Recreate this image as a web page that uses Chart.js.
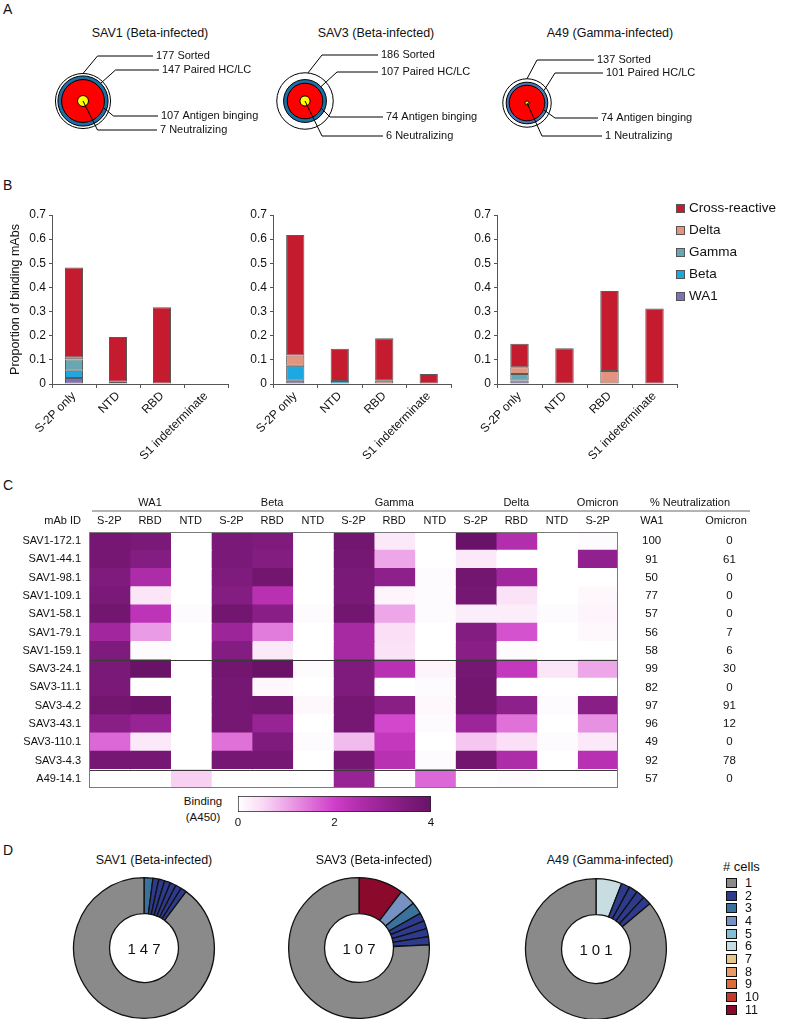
<!DOCTYPE html>
<html><head><meta charset="utf-8"><title>Figure</title>
<script src="https://cdn.jsdelivr.net/npm/chart.js"></script>
<style>
html,body{margin:0;padding:0;background:#fff}
body{position:relative;width:793px;height:1019px;overflow:hidden;font-family:"Liberation Sans",Arial,Helvetica,sans-serif;color:#111}
canvas{position:absolute;display:block}
.tx{position:absolute;white-space:nowrap;line-height:1}
.sw{position:absolute;box-sizing:border-box}
</style></head><body>
<script>
// ================= DATA =================
const donorTitles = ['SAV1 (Beta-infected)', 'SAV3 (Beta-infected)', 'A49 (Gamma-infected)'];
const sortedCounts = [177, 186, 137];
const pairedCounts = [147, 107, 101];
const bindingCounts = [107, 74, 74];
const neutralizingCounts = [7, 6, 1];

// Panel B: proportion of binding mAbs
const epitopeCategories = ['S-2P only', 'NTD', 'RBD', 'S1 indeterminate'];
const specificityNames = ['WA1', 'Beta', 'Gamma', 'Delta', 'Cross-reactive'];
const sav1WA1   = [0.025, 0, 0, 0];
const sav1Beta  = [0.030, 0.009, 0, 0];
const sav1Gamma = [0.046, 0, 0, 0];
const sav1Delta = [0.010, 0, 0, 0];
const sav1Cross = [0.372, 0.186, 0.318, 0];
const sav3WA1   = [0.013, 0, 0, 0];
const sav3Beta  = [0.063, 0.012, 0, 0];
const sav3Gamma = [0, 0, 0, 0];
const sav3Delta = [0.042, 0, 0.013, 0];
const sav3Cross = [0.499, 0.134, 0.176, 0.041];
const a49WA1    = [0.014, 0, 0, 0];
const a49Beta   = [0, 0, 0, 0];
const a49Gamma  = [0.027, 0, 0, 0];
const a49Delta  = [0.028, 0, 0.054, 0];
const a49Cross  = [0.098, 0.148, 0.331, 0.313];
const yTicksB = [0, 0.7, 0.1]; // min, max, step

// Panel C: heatmap
const mabIds = ['SAV1-172.1','SAV1-44.1','SAV1-98.1','SAV1-109.1','SAV1-58.1','SAV1-79.1','SAV1-159.1',
                'SAV3-24.1','SAV3-11.1','SAV3-4.2','SAV3-43.1','SAV3-110.1','SAV3-4.3','A49-14.1'];
const heatColumns = ['S-2P','RBD','NTD','S-2P','RBD','NTD','S-2P','RBD','NTD','S-2P','RBD','NTD','S-2P'];
const columnVariant = [0,0,0,1,1,1,2,2,2,3,3,3,4];
const variantGroups = ['WA1','Beta','Gamma','Delta','Omicron'];
const bindingA450 = [
  [3.7,3.6,0,   3.6,3.5,0,    3.8,0.3,0,    4.0,2.5,0,    0.05],
  [3.7,3.4,0,   3.6,3.4,0,    3.7,1.0,0,    0.3,0,0,      3.1],
  [3.5,2.6,0,   3.5,3.8,0,    3.6,3.2,0.05, 3.8,2.8,0,    0],
  [3.6,0.35,0,  3.4,2.4,0,    3.6,0.15,0.05,3.7,0.4,0,    0.1],
  [3.8,2.3,0.05,3.8,3.3,0.05, 3.8,1.0,0.05, 0.25,0.25,0.05,0.15],
  [2.8,1.1,0,   2.9,1.4,0,    2.7,0.45,0,   3.4,1.8,0,    0.1],
  [3.5,0.05,0,  3.4,0.3,0,    2.7,0.4,0,    3.3,0.05,0,   0],
  [3.6,4.0,0,   3.8,4.0,0.05, 3.5,2.4,0.15, 3.7,2.2,0.35, 1.0],
  [3.6,0,0,     3.7,0.1,0,    3.5,0,0.05,   3.8,0,0,      0],
  [3.8,3.9,0,   3.7,3.8,0.1,  3.7,3.3,0.1,  3.8,3.2,0.05, 3.3],
  [3.3,3.0,0,   3.7,3.0,0,    3.7,1.9,0.05, 2.9,1.5,0,    1.2],
  [1.6,0.3,0,   1.5,3.5,0.05, 0.8,2.2,0,    0.7,0.45,0.05,0.3],
  [3.7,3.7,0,   3.7,3.7,0,    3.7,2.4,0.05, 3.8,2.6,0,    2.4],
  [0,0,0.6,     0,0,0,        3.0,0,1.6,    0,0.05,0,     0]
];
const neutWA1     = [100, 91, 50, 77, 57, 56, 58, 99, 82, 97, 96, 49, 92, 57];
const neutOmicron = [0, 61, 0, 0, 0, 7, 6, 30, 0, 91, 12, 0, 78, 0];
const colorbarRange = [0, 4];
const colorbarStep = 2;

// Panel D: clonal expansion (cells per slice and cell-count class)
const cellCountClasses = [1,2,3,4,5,6,7,8,9,10,11];
const sav1Slices = [3, 2, 2, 2, 2, 2, 2, 132];
const sav1SliceClass = [3, 2, 2, 2, 2, 2, 2, 1];
const sav3Slices = [11, 4, 3, 2, 2, 2, 2, 81];
const sav3SliceClass = [11, 4, 3, 2, 2, 2, 2, 1];
const a49Slices = [6, 2, 2, 2, 2, 87];
const a49SliceClass = [6, 2, 2, 2, 2, 1];

// ================= STYLE =================
const FONT = '"Liberation Sans", Arial, Helvetica, sans-serif';
const specColors = ['#8070b5', '#1ea8e1', '#68a7b2', '#e2947f', '#c41b2e'];
const targetBlues = ['#1b70a6', '#1b70a6', '#4a78b6'];
const cellColors = ['#8a8a8a','#2e3a8c','#3a729e','#7692c3','#84bed2','#c8dde2','#e6c78b','#e89b64','#e06b3a','#c63a2b','#8b0a2c'];
const cmapStops = [[0,[255,255,255]],[0.5,[249,219,245]],[1,[237,166,232]],[1.5,[223,113,217]],[2,[207,62,201]],
                   [2.5,[178,46,172]],[3,[151,35,149]],[3.5,[127,27,125]],[4,[106,18,103]]];
function a450Color(v){
  v = Math.max(0, Math.min(4, v));
  for (let i = 1; i < cmapStops.length; i++){
    const [v1,c1] = cmapStops[i-1], [v2,c2] = cmapStops[i];
    if (v <= v2){
      const t = (v - v1) / (v2 - v1);
      const c = c1.map((x,j)=>Math.round(x + (c2[j]-x)*t));
      return `rgb(${c[0]},${c[1]},${c[2]})`;
    }
  }
  return 'rgb(106,18,103)';
}

Chart.defaults.responsive = false;
Chart.defaults.maintainAspectRatio = false;
Chart.defaults.animation = false;
Chart.defaults.events = [];
Chart.defaults.font.family = FONT;
Chart.defaults.color = '#111';
Chart.defaults.plugins.legend.display = false;
Chart.defaults.plugins.tooltip.enabled = false;

function T(txt, x, y, size, align='left', extra=''){
  const d = document.createElement('div'); d.className = 'tx'; d.textContent = txt;
  const tx = align==='center' ? -50 : align==='right' ? -100 : 0;
  d.style.cssText += `left:${x}px;top:${y}px;font-size:${size}px;transform:translate(${tx}%,-50%);${extra}`;
  document.body.appendChild(d); return d;
}
function C(left, top, w, h){
  const c = document.createElement('canvas'); c.width = w; c.height = h;
  c.style.left = left+'px'; c.style.top = top+'px'; c.style.width = w+'px'; c.style.height = h+'px';
  document.body.appendChild(c); return c;
}
// fix an axis' size and drop its label overflow padding
const fixW = w => s => { s.width = w; s.paddingTop = 0; s.paddingBottom = 0; };
const fixH = h => s => { s.height = h; };

// Panel letters
T('A', 3, 9, 14); T('B', 3, 185, 14); T('C', 3, 485, 14); T('D', 3, 850, 14);

// ================= PANEL A =================
const PX_PER_SQRT = 2.07;
const targetCenters = [[82.5,101],[305,101],[527,103]];
const titleCentersA = [150, 376, 610];
const leaders = [
  [{ring:0,ang:-90,ex:14.5,ey:-45,end:70},{ring:1,ang:-45,ex:32.5,ey:-31,end:76},{ring:2,ang:18,ex:30.5,ey:15,end:75},{ring:-1,ang:0,ex:14.5,ey:29,end:74}],
  [{ring:0,ang:-84,ex:17,ey:-46,end:73},{ring:1,ang:-42,ex:32,ey:-29,end:73},{ring:2,ang:24,ex:25,ey:16,end:78},{ring:-1,ang:0,ex:17,ey:35,end:78}],
  [{ring:0,ang:-90,ex:10,ey:-43,end:67},{ring:1,ang:-36,ex:28,ey:-30,end:76},{ring:2,ang:22,ex:28,ey:15,end:71},{ring:-1,ang:0,ex:15,ey:33,end:75}]
];
function leaderPlugin(i){
  const texts = [`${sortedCounts[i]} Sorted`, `${pairedCounts[i]} Paired HC/LC`, `${bindingCounts[i]} Antigen binging`, `${neutralizingCounts[i]} Neutralizing`];
  return {id:'leaders'+i, afterDatasetsDraw(chart){
    const {ctx} = chart;
    const cx = chart.scales.x.getPixelForValue(0), cy = chart.scales.y.getPixelForValue(0);
    const radii = chart.data.datasets.map(d=>d.data[0].r);
    ctx.save(); ctx.strokeStyle='#000'; ctx.lineWidth=1; ctx.fillStyle='#111';
    ctx.font = `11px ${FONT}`; ctx.textBaseline='middle'; ctx.textAlign='left';
    leaders[i].forEach((L,k)=>{
      const r = L.ring < 0 ? 0 : radii[L.ring];
      const a = L.ang*Math.PI/180;
      ctx.beginPath(); ctx.moveTo(cx + r*Math.cos(a), cy + r*Math.sin(a));
      ctx.lineTo(cx + L.ex, cy + L.ey); ctx.lineTo(cx + L.end, cy + L.ey); ctx.stroke();
      ctx.fillText(texts[k], cx + L.end + 3, cy + L.ey);
    });
    ctx.restore();
  }};
}
donorTitles.forEach((title,i)=>{
  const [cx,cy] = targetCenters[i];
  T(title, titleCentersA[i], 33, 12.5, 'center');
  const cv = C(cx-80, cy-65, 300, 130);
  const counts = [sortedCounts[i], pairedCounts[i], bindingCounts[i], neutralizingCounts[i]];
  const fills = ['#ffffff', targetBlues[i], '#ff0000', '#ffff00'];
  new Chart(cv, {type:'bubble',
    data:{datasets: counts.map((n,k)=>({data:[{x:0,y:0,r:PX_PER_SQRT*Math.sqrt(n)}], backgroundColor:fills[k],
      borderColor:'#000', borderWidth:1, order:counts.length-k, clip:false}))},
    options:{layout:{padding:32}, scales:{x:{display:false,min:-48,max:188}, y:{display:false,min:-33,max:33}}},
    plugins:[leaderPlugin(i)]});
});

// ================= PANEL B =================
const seriesB = [
  [sav1WA1, sav1Beta, sav1Gamma, sav1Delta, sav1Cross],
  [sav3WA1, sav3Beta, sav3Gamma, sav3Delta, sav3Cross],
  [a49WA1, a49Beta, a49Gamma, a49Delta, a49Cross]
];
const barLayout = [{left:0, axisW:52, padR:12}, {left:223, axisW:50, padR:12}, {left:449, axisW:48, padR:12}];
seriesB.forEach((series,i)=>{
  const L = barLayout[i];
  const cv = C(L.left, 205, 240, 270);
  new Chart(cv, {type:'bar',
    data:{labels: epitopeCategories, datasets: specificityNames.map((nm,k)=>({label:nm, data:series[k],
      backgroundColor:specColors[k], borderColor:'#5a5a5a', borderWidth:1, borderSkipped:false,
      barPercentage:0.41, categoryPercentage:1}))},
    options:{layout:{padding:{top:10,right:L.padR,left:0,bottom:0}},
      scales:{
        x:{stacked:true, grid:{display:true, drawOnChartArea:false, drawTicks:true, tickLength:4, color:'#555'},
           border:{color:'#555', width:1}, ticks:{autoSkip:false, minRotation:45, maxRotation:45, padding:1, font:{size:12}, color:'#111'},
           afterFit:fixH(91)},
        y:{stacked:true, min:yTicksB[0], max:yTicksB[1], ticks:{stepSize:yTicksB[2], padding:3, font:{size:12}, color:'#111'},
           grid:{display:true, drawOnChartArea:false, tickLength:3, color:'#555'}, border:{color:'#555', width:1},
           title:{display:i===0, text:'Proportion of binding mAbs', font:{size:12.5}, color:'#111', padding:{top:8,bottom:0}},
           afterFit:fixW(L.axisW)}
      }}});
});
// legend for B
specificityNames.slice().reverse().forEach((nm,j)=>{
  const k = specificityNames.length-1-j;
  const y = 208 + 22*j;
  const sw = document.createElement('div'); sw.className='sw';
  sw.style.cssText += `left:676px;top:${y-4}px;width:9px;height:9px;background:${specColors[k]};border:1px solid #555;`;
  document.body.appendChild(sw);
  T(nm, 689, y, 13.5);
});

// ================= PANEL C =================
const groupTicks = heatColumns.map(()=> '');
variantGroups.forEach((g,gi)=>{
  const idx = columnVariant.map((v,c)=>v===gi?c:-1).filter(c=>c>=0);
  groupTicks[idx[Math.floor(idx.length/2)]] = g;
});
const donorOf = id => id.split('-')[0];
const heatSeparators = mabIds.map((id,r)=> r>0 && donorOf(id)!==donorOf(mabIds[r-1]) ? r : -1).filter(r=>r>0);
const heatDecor = {id:'heatDecor', afterDatasetsDraw(chart){
  const {ctx, chartArea:a, scales} = chart;
  const y = scales.y;
  ctx.save();
  ctx.strokeStyle = '#3a3a3a'; ctx.lineWidth = 1;
  heatSeparators.forEach(r=>{
    const py = Math.round((y.getPixelForValue(r-1)+y.getPixelForValue(r))/2) + 0.5;
    ctx.beginPath(); ctx.moveTo(a.left, py); ctx.lineTo(a.right, py); ctx.stroke();
  });
  ctx.strokeStyle = '#7a7a7a';
  ctx.strokeRect(Math.round(a.left)+0.5, Math.round(a.top)+0.5, Math.round(a.right)-Math.round(a.left)-1, Math.round(a.bottom)-Math.round(a.top)-1);
  const gy = scales.x3.bottom;
  ctx.strokeStyle = '#9a9a9a'; ctx.lineWidth = 1.5;
  ctx.beginPath(); ctx.moveTo(a.left+3, gy); ctx.lineTo(scales.y3.right-20, gy); ctx.stroke();
  ctx.fillStyle = '#111'; ctx.font = `11px ${FONT}`; ctx.textBaseline = 'middle';
  const subY = scales.x2.bottom - 4 - 6.6;
  const grpY = scales.x3.bottom - 1.4 - 6.6;
  ctx.textAlign = 'right'; ctx.fillText('mAb ID', a.left-8, subY);
  ctx.textAlign = 'center';
  ctx.fillText('WA1', 652, subY);
  ctx.fillText('Omicron', 726, subY);
  ctx.fillText('% Neutralization', 690, grpY);
  ctx.restore();
}};
const hc = C(0, 491, 793, 300);
new Chart(hc, {type:'bar',
  data:{labels: mabIds, datasets: heatColumns.map((col,c)=>({label:col,
    data: mabIds.map(()=>1),
    backgroundColor: bindingA450.map(row=>a450Color(row[c])),
    borderWidth:0, barPercentage:1, categoryPercentage:1, inflateAmount:0.6}))},
  options:{indexAxis:'y', layout:{padding:{left:0,right:23,top:0,bottom:3}},
    scales:{
      x:{type:'linear', stacked:true, min:0, max:heatColumns.length, display:false},
      y:{type:'category', stacked:true, labels:mabIds, offset:true, grid:{display:false, drawTicks:false}, border:{display:false},
         ticks:{padding:8, font:{size:11}, color:'#111', autoSkip:false}, afterFit:fixW(89)},
      x2:{type:'category', position:'top', labels:heatColumns, offset:true, weight:0, grid:{display:false, drawTicks:false}, border:{display:false},
         ticks:{padding:4, font:{size:11}, color:'#111', autoSkip:false, maxRotation:0}, afterFit:fixH(21)},
      x3:{type:'category', position:'top', labels:groupTicks, offset:true, weight:1, grid:{display:false, drawTicks:false}, border:{display:false},
         ticks:{padding:1.4, font:{size:11}, color:'#111', autoSkip:false, maxRotation:0}, afterFit:fixH(20)},
      y2:{type:'category', position:'right', labels:neutWA1.map(String), offset:true, weight:0, grid:{display:false, drawTicks:false}, border:{display:false},
         ticks:{crossAlign:'center', padding:24, font:{size:11.5}, color:'#111', autoSkip:false}, afterFit:fixW(72)},
      y3:{type:'category', position:'right', labels:neutOmicron.map(String), offset:true, weight:1, grid:{display:false, drawTicks:false}, border:{display:false},
         ticks:{crossAlign:'center', padding:33, font:{size:11.5}, color:'#111', autoSkip:false}, afterFit:fixW(80)}
    }},
  plugins:[heatDecor]});

// colorbar
T('Binding', 203, 802, 11.5, 'center');
T('(A450)', 203, 818, 11.5, 'center');
const cb = C(200, 790, 260, 42);
new Chart(cb, {type:'bar',
  data:{labels:['A450'], datasets:[{data:[colorbarRange],
    backgroundColor:(ctx)=>{
      const ch = ctx.chart; if (!ch.chartArea) return '#fff';
      const xs = ch.scales.x;
      const g = ch.ctx.createLinearGradient(xs.getPixelForValue(colorbarRange[0]),0,xs.getPixelForValue(colorbarRange[1]),0);
      cmapStops.forEach(([v,c])=>g.addColorStop((v-colorbarRange[0])/(colorbarRange[1]-colorbarRange[0]), `rgb(${c[0]},${c[1]},${c[2]})`));
      return g;
    },
    borderColor:'#222', borderWidth:1, borderSkipped:false, barPercentage:1, categoryPercentage:1}]},
  options:{indexAxis:'y', layout:{padding:{left:38,right:29,top:6,bottom:0}},
    scales:{x:{min:colorbarRange[0], max:colorbarRange[1], ticks:{stepSize:colorbarStep, padding:4, font:{size:11.5}, color:'#111'},
               grid:{display:false, drawTicks:false}, border:{display:false}, afterFit:fixH(20)},
            y:{display:false}}}});

// ================= PANEL D =================
const donutSets = [[sav1Slices, sav1SliceClass],[sav3Slices, sav3SliceClass],[a49Slices, a49SliceClass]];
const donutCenters = [[144,948],[359,948],[596,949]];
const titleCentersD = [154, 374, 610];
donutSets.forEach(([slices, cls], i)=>{
  const [cx,cy] = donutCenters[i];
  T(donorTitles[i], titleCentersD[i], 860, 12.5, 'center');
  const cv = C(cx-72, cy-72, 144, 144);
  new Chart(cv, {type:'doughnut',
    data:{labels: cls.map(c=>c+' cells'), datasets:[{data:slices, backgroundColor:cls.map(c=>cellColors[c-1]),
      borderColor:'#111', borderWidth:1.3}]},
    options:{cutout:'49%', layout:{padding:1}}});
  T(String(pairedCounts[i]), cx+2, cy, 15, 'center', 'letter-spacing:4px;');
});
// # cells legend
T('# cells', 723, 866, 13);
cellCountClasses.forEach((n,j)=>{
  const y = 883 + 12.65*j;
  const sw = document.createElement('div'); sw.className='sw';
  sw.style.cssText += `left:726px;top:${y-5}px;width:11px;height:10px;background:${cellColors[n-1]};border:1.5px solid #111;`;
  document.body.appendChild(sw);
  T(String(n), 745, y, 12.5);
});
</script>
</body></html>
